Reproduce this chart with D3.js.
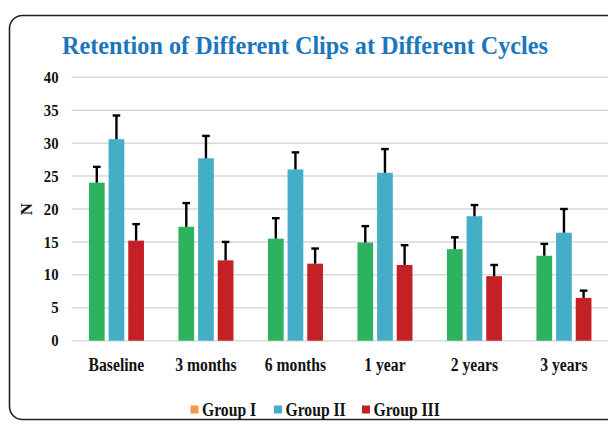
<!DOCTYPE html>
<html>
<head>
<meta charset="utf-8">
<script src="https://cdn.jsdelivr.net/npm/d3@7"></script>
<style>
  body { margin: 0; background: #fff; }
  svg { display: block; }
  text { font-family: "Liberation Serif", "Times New Roman", serif; font-weight: bold; }
</style>
</head>
<body>
<script>
// data
var periods = ["Baseline", "3 months", "6 months", "1 year", "2 years", "3 years"];
var groups = ["Group I", "Group II", "Group III"];
var groupI   = [24.0, 17.3, 15.5, 14.9, 13.9, 12.9];
var groupII  = [30.6, 27.7, 26.0, 25.5, 18.9, 16.4];
var groupIII = [15.2, 12.2, 11.7, 11.5,  9.8,  6.5];
var groupIErr   = [2.4, 3.6, 3.1, 2.5, 1.8, 1.8];
var groupIIErr  = [3.6, 3.4, 2.6, 3.6, 1.7, 3.6];
var groupIIIErr = [2.5, 2.8, 2.3, 3.0, 1.7, 1.1];
var yTicks = [0, 5, 10, 15, 20, 25, 30, 35, 40];

var barColors = ["#2db35d", "#45aec7", "#c42127"];
var legendColors = ["#f79646", "#45aec7", "#c42127"];

var W = 608, H = 424;

// squeeze text a bit, the original font is narrower than Liberation Serif
function condense(sel, k) {
  sel.each(function() {
    var len = this.getComputedTextLength();
    if (len > 0) d3.select(this).attr("textLength", len * k).attr("lengthAdjust", "spacingAndGlyphs");
  });
}

var svg = d3.select("body").append("svg")
  .attr("width", W)
  .attr("height", H);

// frame
svg.append("rect")
  .attr("x", 9.5).attr("y", 15.5)
  .attr("width", 620).attr("height", 404)
  .attr("rx", 13)
  .attr("fill", "none")
  .attr("stroke", "#222")
  .attr("stroke-width", 1.6);

// title
var title = svg.append("text")
  .attr("x", 305).attr("y", 54)
  .attr("text-anchor", "middle")
  .attr("fill", "#1b76bd")
  .attr("font-size", 26)
  .text("Retention of Different Clips at Different Cycles");
if (title.node().getComputedTextLength() > 0) title.attr("textLength", 486).attr("lengthAdjust", "spacingAndGlyphs");

var x0 = d3.scaleBand()
  .domain(periods)
  .range([71.7, 608.7])
  .paddingInner(0.385)
  .paddingOuter(0.1925);

var x1 = d3.scaleBand()
  .domain(groups)
  .range([0, x0.bandwidth()])
  .paddingInner(0.2);

var y = d3.scaleLinear()
  .domain([0, 40])
  .range([340.7, 77.3]);

// gridlines
svg.selectAll("line.grid")
  .data(yTicks)
  .enter()
  .append("line")
  .attr("class", "grid")
  .attr("x1", 71.7).attr("x2", 608)
  .attr("y1", function(d) { return y(d); })
  .attr("y2", function(d) { return y(d); })
  .attr("stroke", "#d9d9d9")
  .attr("stroke-width", 1.5);

// y tick labels
svg.selectAll("text.ytick")
  .data(yTicks)
  .enter()
  .append("text")
  .attr("class", "ytick")
  .attr("x", 58.5)
  .attr("y", function(d) { return y(d); })
  .attr("dy", "0.35em")
  .attr("text-anchor", "end")
  .attr("font-size", 16)
  .attr("fill", "#111")
  .text(function(d) { return d; })
  .call(condense, 0.92);

// y axis title
svg.append("text")
  .attr("transform", "translate(31.5," + y(20) + ") rotate(-90)")
  .attr("text-anchor", "middle")
  .attr("font-size", 17)
  .attr("fill", "#111")
  .text("N");

// build rows
var series = [groupI, groupII, groupIII];
var errs = [groupIErr, groupIIErr, groupIIIErr];
var rows = [];
for (var i = 0; i < periods.length; i++) {
  for (var g = 0; g < groups.length; g++) {
    rows.push({ period: periods[i], group: groups[g], gi: g, value: series[g][i], err: errs[g][i] });
  }
}

var bars = svg.append("g");
bars.selectAll("rect")
  .data(rows)
  .enter()
  .append("rect")
  .attr("x", function(d) { return x0(d.period) + x1(d.group); })
  .attr("y", function(d) { return y(d.value); })
  .attr("width", x1.bandwidth())
  .attr("height", function(d) { return y(0) - y(d.value); })
  .attr("fill", function(d) { return barColors[d.gi]; });

// error bars (upper only)
var eb = svg.append("g").attr("stroke", "#000").attr("stroke-width", 2.4);
eb.selectAll("line.stem")
  .data(rows)
  .enter()
  .append("line")
  .attr("class", "stem")
  .attr("x1", function(d) { return x0(d.period) + x1(d.group) + x1.bandwidth() / 2; })
  .attr("x2", function(d) { return x0(d.period) + x1(d.group) + x1.bandwidth() / 2; })
  .attr("y1", function(d) { return y(d.value); })
  .attr("y2", function(d) { return y(d.value + d.err); });
eb.selectAll("line.cap")
  .data(rows)
  .enter()
  .append("line")
  .attr("class", "cap")
  .attr("x1", function(d) { return x0(d.period) + x1(d.group) + x1.bandwidth() / 2 - 3.8; })
  .attr("x2", function(d) { return x0(d.period) + x1(d.group) + x1.bandwidth() / 2 + 3.8; })
  .attr("y1", function(d) { return y(d.value + d.err); })
  .attr("y2", function(d) { return y(d.value + d.err); });

// x labels
svg.selectAll("text.xlab")
  .data(periods)
  .enter()
  .append("text")
  .attr("class", "xlab")
  .attr("x", function(d) { return x0(d) + x0.bandwidth() / 2; })
  .attr("y", 371)
  .attr("text-anchor", "middle")
  .attr("font-size", 18)
  .attr("fill", "#111")
  .text(function(d) { return d; })
  .call(condense, 0.87);

// legend
var legX = [190.5, 274, 362];
var leg = svg.selectAll("g.leg")
  .data(groups)
  .enter()
  .append("g")
  .attr("class", "leg")
  .attr("transform", function(d, i) { return "translate(" + legX[i] + ",409.5)"; });
leg.append("rect")
  .attr("x", 0).attr("y", -4)
  .attr("width", 8).attr("height", 8)
  .attr("fill", function(d, i) { return legendColors[i]; });
leg.append("text")
  .attr("x", 11.5)
  .attr("dy", "0.35em")
  .attr("font-size", 18)
  .attr("fill", "#111")
  .text(function(d) { return d; })
  .call(condense, 0.87);
</script>
</body>
</html>
